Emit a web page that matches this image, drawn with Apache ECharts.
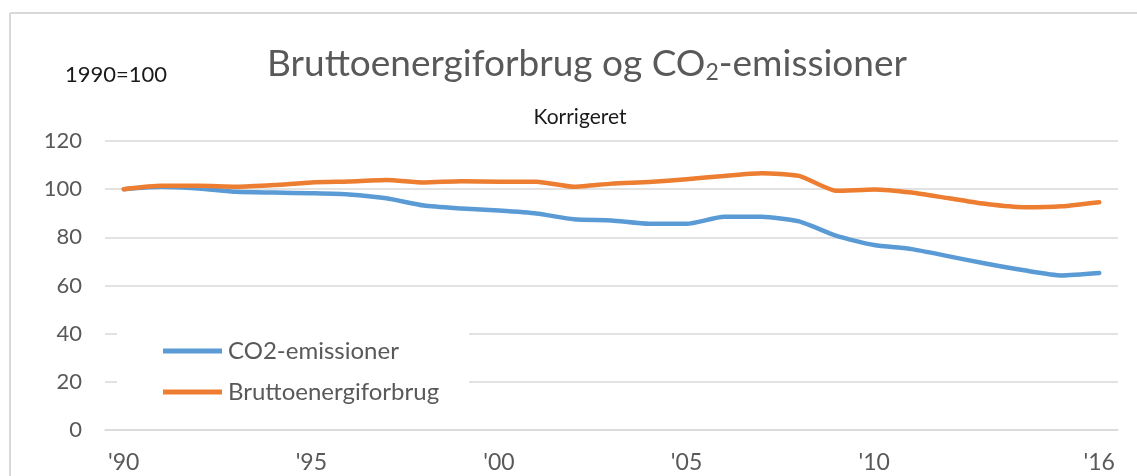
<!DOCTYPE html>
<html>
<head>
<meta charset="utf-8">
<title>Bruttoenergiforbrug og CO2-emissioner</title>
<script src="https://cdn.jsdelivr.net/npm/echarts@6/dist/echarts.min.js"></script>
<style>
    html, body { margin: 0; padding: 0; background: #fff; }
    #echarts { width: 1137px; height: 476px; }
</style>
</head>
<body>
<div id="echarts"></div>
<script>
// data (index 1990 = 100)
const years = [1990, 1991, 1992, 1993, 1994, 1995, 1996, 1997, 1998, 1999, 2000, 2001, 2002,
    2003, 2004, 2005, 2006, 2007, 2008, 2009, 2010, 2011, 2012, 2013, 2014, 2015, 2016]
const co2 = [100, 101, 100.3, 98.9, 98.6, 98.3, 97.8, 96.2, 93.2, 92.0, 91.1, 89.9, 87.5,
    87.0, 85.6, 85.6, 88.5, 88.5, 86.6, 80.6, 76.8, 75.1, 72.1, 69.0, 66.3, 64.2, 65.2]
const energy = [100, 101.4, 101.4, 101.0, 101.7, 102.8, 103.2, 103.8, 102.8, 103.3, 103.1, 103.1, 101.0,
    102.3, 103.0, 104.1, 105.5, 106.6, 105.5, 99.3, 99.9, 98.6, 96.2, 93.8, 92.5, 92.9, 94.6]
const labelYears = [1990, 1995, 2000, 2005, 2010, 2016]
const seriesNames = ['CO2-emissioner', 'Bruttoenergiforbrug']

const font = 'Lato, "Open Sans", sans-serif'
const grey = '#595959'
const gridGrey = '#d9d9d9'

let mycharts = echarts.init(document.getElementById('echarts'), null, { renderer: 'canvas' })
let option = {
    backgroundColor: '#fff',
    animation: false,
    title: [
        {
            text: 'Bruttoenergiforbrug og CO{sub|2}-emissioner',
            left: 582,
            top: 40,
            textAlign: 'center',
            textStyle: {
                fontFamily: font,
                fontSize: 37,
                fontWeight: 'normal',
                color: grey,
                rich: {
                    sub: { fontFamily: font, fontSize: 23, color: grey, verticalAlign: 'bottom', padding: [16, 0, 0, 0] }
                }
            }
        },
        {
            text: '1990=100',
            left: 60,
            top: 59,
            textStyle: { fontFamily: font, fontSize: 22, fontWeight: 'normal', color: '#1a1a1a' }
        },
        {
            text: 'Korrigeret',
            left: 575,
            top: 102,
            textAlign: 'center',
            textStyle: { fontFamily: font, fontSize: 21, fontWeight: 'normal', color: '#1a1a1a' }
        }
    ],
    grid: {
        left: 105,
        right: 19,
        top: 141,
        bottom: 46,
        containLabel: false
    },
    legend: {
        data: seriesNames,
        orient: 'vertical',
        left: 117,
        top: 321,
        backgroundColor: '#fff',
        padding: [18, 30, 18, 46],
        itemWidth: 59,
        itemHeight: 5,
        itemGap: 17,
        icon: 'rect',
        textStyle: { fontFamily: font, fontSize: 24, color: grey, padding: [0, 0, 0, 1] }
    },
    xAxis: {
        type: 'category',
        data: years,
        boundaryGap: true,
        axisLine: { show: true, lineStyle: { color: gridGrey, width: 1.5 } },
        axisTick: { show: false },
        axisLabel: {
            interval: (index, value) => labelYears.includes(Number(value)),
            formatter: (value) => "'" + String(value).slice(2),
            fontFamily: font,
            fontSize: 23,
            color: grey,
            margin: 21
        }
    },
    yAxis: {
        type: 'value',
        min: 0,
        max: 120,
        interval: 20,
        axisLine: { show: false },
        axisTick: { show: false },
        axisLabel: { fontFamily: font, fontSize: 22, color: grey, margin: 23 },
        splitLine: { show: true, lineStyle: { color: gridGrey, width: 1.5 } }
    },
    series: [
        {
            name: seriesNames[0],
            type: 'line',
            data: co2,
            smooth: 0.2,
            symbol: 'none',
            itemStyle: { color: '#5b9bd5' },
            lineStyle: { color: '#5b9bd5', width: 4.5, cap: 'round', join: 'round' }
        },
        {
            name: seriesNames[1],
            type: 'line',
            data: energy,
            smooth: 0.2,
            symbol: 'none',
            itemStyle: { color: '#ed7d31' },
            lineStyle: { color: '#ed7d31', width: 4.5, cap: 'round', join: 'round' }
        }
    ],
    // chart-area frame (top and left edge, rest is cropped in the reference)
    graphic: [
        { type: 'line', shape: { x1: 10, y1: 13, x2: 1137, y2: 13 }, style: { stroke: gridGrey, lineWidth: 2 } },
        { type: 'line', shape: { x1: 10, y1: 13, x2: 10, y2: 476 }, style: { stroke: gridGrey, lineWidth: 2 } }
    ]
}
mycharts.setOption(option)
</script>
</body>
</html>
